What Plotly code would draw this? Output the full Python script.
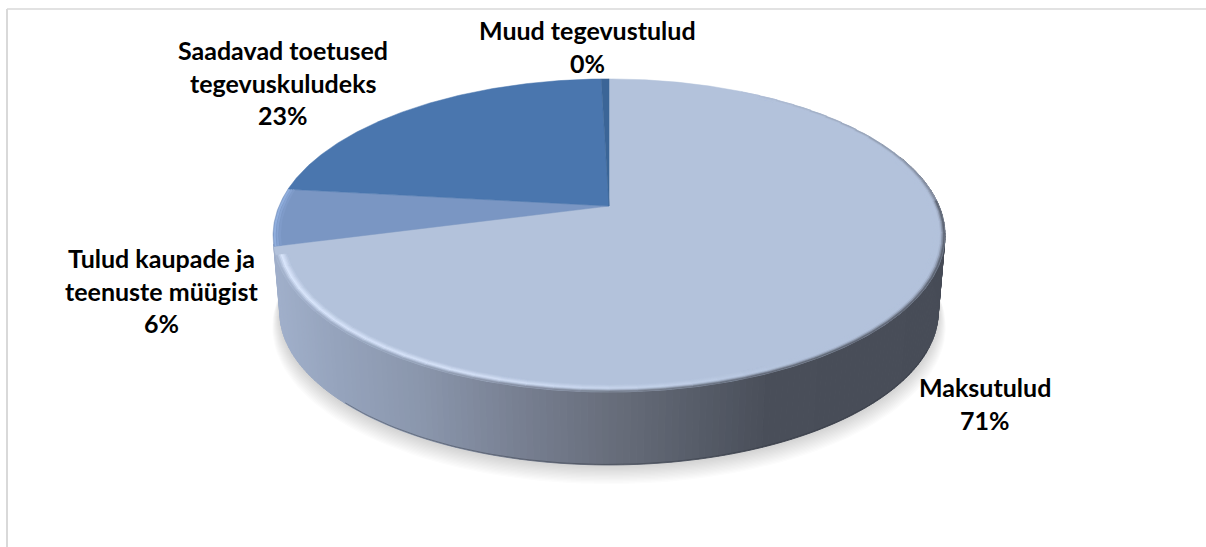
import numpy as np
import plotly.graph_objects as go

# --- data ---
categories = ["Maksutulud", "Tulud kaupade ja teenuste müügist", "Saadavad toetused tegevuskuludeks", "Muud tegevustulud"]
values = [70.9, 5.9, 22.75, 0.45]
label_lines = [["Maksutulud"], ["Tulud kaupade ja", "teenuste müügist"], ["Saadavad toetused", "tegevuskuludeks"], ["Muud tegevustulud"]]
colors = ["#b3c2db", "#7a96c3", "#4a76ae", "#3b6597"]

# --- style / layout ---
W, H = 1206, 547
CX, CY, A, B, K = 609.0, 206.0, 330.0, 151.0, 0.188
DEPTH, BOT_SCALE = 76.7, 0.98
label_pos = [(985, 387), (161, 258), (283, 50), (587, 30)]
LINE_STEP = 32.5
FONT = dict(family="Lato, Carlito, Calibri, sans-serif", size=25, color="#000000")


def proj(a_deg, r=1.0, scale=1.0, dy=0.0):
    a = np.radians(a_deg)
    u, v = r * np.sin(a), r * np.cos(a)
    w = 1 + K * v
    return CX + scale * A * u / w, CY + dy + scale * B * (-v) / w


def hex_rgb(h):
    return np.array([int(h[i:i + 2], 16) for i in (1, 3, 5)], float)


def to_css(c):
    return "rgb(%d,%d,%d)" % tuple(int(round(v)) for v in c)


side_stops = [(275, "#a0afca"), (330, "#96a4bd"), (420, "#8a96ac"), (520, "#777f91"),
              (620, "#666c79"), (700, "#565c68"), (770, "#494e59"), (950, "#474c57")]


def side_rgb(x):
    xs = [s[0] for s in side_stops]
    cs = np.array([hex_rgb(s[1]) for s in side_stops])
    return np.array([np.interp(x, xs, cs[:, i]) for i in range(3)])


fig = go.Figure()


def poly(x, y, fill, lw=0.0):
    fig.add_trace(go.Scatter(
        x=list(x), y=list(y), mode="lines", fill="toself", fillcolor=fill,
        line=dict(color=fill, width=lw), hoverinfo="skip", showlegend=False))


def stroke(x, y, color, lw):
    fig.add_trace(go.Scatter(
        x=list(x), y=list(y), mode="lines", line=dict(color=color, width=lw),
        hoverinfo="skip", showlegend=False))


# soft shadow under the disc
full = np.linspace(0, 360, 181)
for i in range(14):
    s = BOT_SCALE + 0.0016 * (14 - i)
    x, y = proj(full, scale=s, dy=DEPTH + 1.0 + 1.0 * (14 - i))
    poly(x, y, "rgba(70,70,70,0.016)")

# side wall, shaded by horizontal position
edges = np.arange(70, 256.1, 1.0)
for a0, a1 in zip(edges[:-1], edges[1:]):
    seg = np.array([a0, a1])
    xt, yt = proj(seg)
    xb, yb = proj(seg, scale=BOT_SCALE, dy=DEPTH)
    col = to_css(side_rgb(float(np.mean(xt))))
    poly(np.r_[xt, xb[::-1], xt[0]], np.r_[yt, yb[::-1], yt[0]], col, 1.0)

# dark contact line along the lower wall edge
seg = np.linspace(115, 225, 80)
xb, yb = proj(seg, scale=BOT_SCALE, dy=DEPTH - 0.5)
stroke(xb, yb, "rgba(45,50,60,0.4)", 1.0)

# top-face slices, driven by the values
total = sum(values)
start = 0.0
mids = []
for val, col in zip(values, colors):
    end = start + val / total * 360
    seg = np.linspace(start, end, max(3, int((end - start) * 2)))
    x, y = proj(seg)
    poly(np.r_[CX, x, CX], np.r_[CY, y, CY], col, 0.5)
    mids.append((start, end))
    start = end

# bevel: radial bands, shade depends on the angle round the disc and the distance to the edge
face = hex_rgb(colors[0])
HIGHLIGHT = hex_rgb("#dce8fe")
BACK_EDGE = hex_rgb("#6f7686")


def rim_rgb(a, r, x):
    hi = np.interp(a, [150, 200, 256], [0.0, 0.85, 1.0])
    peak = max(1 - abs(r - 0.55) / 0.45, 0.0)
    c = face + (HIGHLIGHT - face) * peak * hi
    if a >= 90:
        target = side_rgb(x)
        weight = np.interp(r, [0.6, 1.0], [0.0, 1.0]) ** 1.5
    else:
        target = BACK_EDGE
        weight = np.interp(a, [28, 60, 90], [0.0, 0.6, 1.0]) * np.interp(r, [0.6, 1.0], [0.0, 1.0]) ** 1.5
    return c + (target - c) * weight


levels = np.linspace(0.0, 1.0, 9)
bucket = np.arange(28, 255.7, 4.0)
for a0, a1 in zip(bucket[:-1], bucket[1:]):
    seg = np.linspace(a0, a1, 3)
    for l0, l1 in zip(levels[:-1], levels[1:]):
        xi, yi = proj(seg, r=0.965 + 0.035 * l0)
        xo, yo = proj(seg, r=0.965 + 0.035 * l1)
        col = to_css(rim_rgb((a0 + a1) / 2, (l0 + l1) / 2, float(np.mean(xo))))
        poly(np.r_[xi, xo[::-1], xi[0]], np.r_[yi, yo[::-1], yi[0]], col, 0.6)

# lighter rim of the second slice
seg_t = np.linspace(mids[1][0], mids[1][1], 20)
for lv, c in zip([0.2, 0.5, 0.8], ["#7f9bc9", "#86a3d2", "#90aedd"]):
    x, y = proj(seg_t, r=0.975 + 0.025 * lv)
    stroke(x, y, c, 2.0)

# labels
anns = []
for lines, val, (lx, ly) in zip(label_lines, values, label_pos):
    pct = "%d%%" % round(val / total * 100)
    for i, txt in enumerate(lines + [pct]):
        anns.append(dict(x=lx, y=ly + i * LINE_STEP, text="<b>%s</b>" % txt, showarrow=False,
                         xanchor="center", yanchor="middle", font=FONT))

# outer frame of the source picture
frame = [dict(type="line", x0=7, x1=7, y0=9, y1=H, line=dict(color="#d9d9d9", width=2)),
         dict(type="line", x0=7, x1=W, y0=9, y1=9, line=dict(color="#d9d9d9", width=1.5))]

fig.update_layout(
    width=W, height=H, margin=dict(l=0, r=0, t=0, b=0),
    paper_bgcolor="white", plot_bgcolor="white", showlegend=False,
    xaxis=dict(range=[0, W], visible=False, fixedrange=True),
    yaxis=dict(range=[H, 0], visible=False, fixedrange=True),
    annotations=anns, shapes=frame,
)
fig.write_html("out.html", config=dict(displayModeBar=False),
               post_script="document.body.style.margin='0';")
